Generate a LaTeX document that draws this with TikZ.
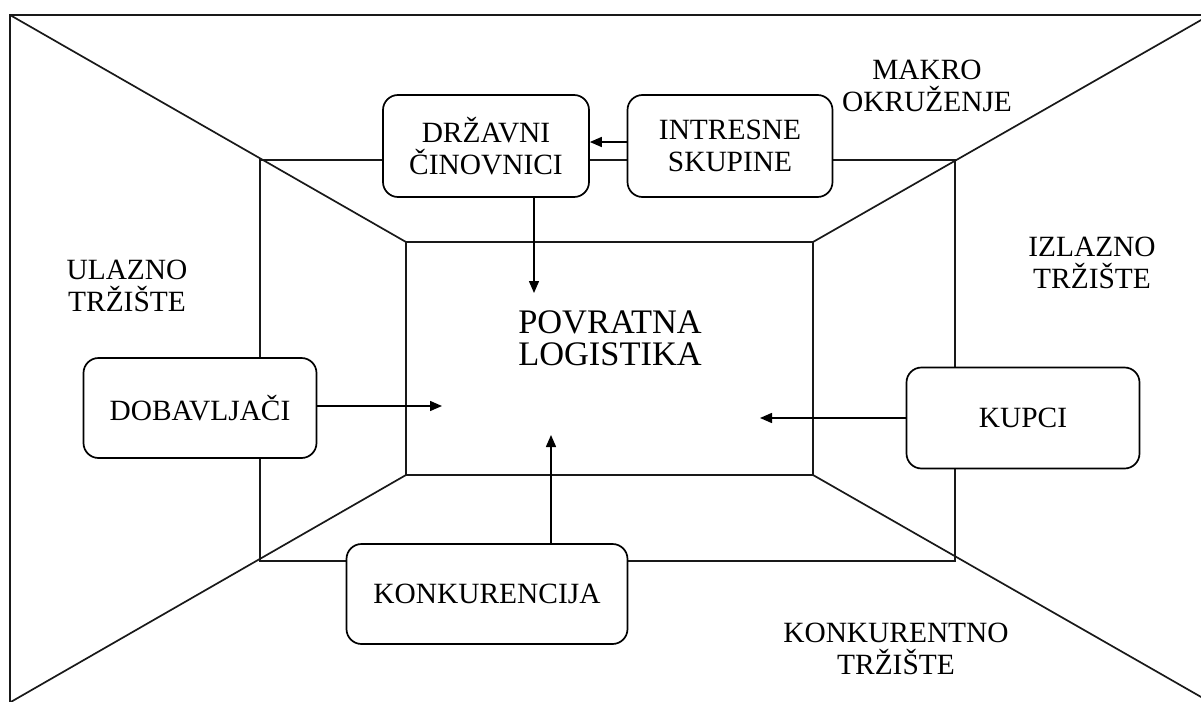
\documentclass[tikz,border=0pt]{standalone}
\usepackage{fontspec}
\setmainfont{Liberation Serif}
\usetikzlibrary{arrows.meta}

\tikzset{
  frame/.style={line width=0.85pt, black!90},
  box/.style={draw, line width=0.85pt, fill=white, rounded corners=7.5pt,
              align=center, inner sep=0pt, font=\fontsize{14.7pt}{15.6pt}\selectfont},
  lbl/.style={align=center, inner sep=0pt, font=\fontsize{14.7pt}{16pt}\selectfont},
  arr/.style={line width=0.75pt, -{Triangle[length=6pt,width=5pt]}}
}

\begin{document}
\begin{tikzpicture}[x=0.5pt,y=-0.5pt]
  \useasboundingbox (0,0) rectangle (1201,702);
  \clip (0,0) rectangle (1201,702);

  % corner points of the three nested frames (outer one runs past the page)
  \coordinate (oTL) at (10,15);
  \coordinate (oTR) at (1220,15);
  \coordinate (oBR) at (1220,720);
  \coordinate (oBL) at (10,720);
  \coordinate (iTL) at (406,242);
  \coordinate (iTR) at (813,242);
  \coordinate (iBR) at (813,475);
  \coordinate (iBL) at (406,475);

  % outer frame
  \draw[frame] (oTL) -- (oTR) -- (oBR) -- (oBL) -- cycle;
  % middle frame
  \draw[frame] (260,160) rectangle (955,561);
  % inner frame
  \draw[frame] (iTL) rectangle (iBR);
  % diagonals joining the frames
  \draw[frame] (oTL) -- (iTL);
  \draw[frame] (1209,15.5) -- (iTR);
  \draw[frame] (1209,701.5) -- (iBR);
  \draw[frame] (9,703) -- (iBL);

  % centre label
  \node[lbl, font=\fontsize{17.2pt}{16pt}\selectfont] (core) at (610,338) {POVRATNA\\LOGISTIKA};

  % actors
  \node[box, minimum width=103pt, minimum height=51pt] (drz) at (486,146) {DRŽAVNI\\ČINOVNICI};
  \node[box, minimum width=102.5pt, minimum height=51pt] (int) at (730,146) {INTRESNE\\SKUPINE};
  \node[box, minimum width=116.5pt, minimum height=50pt] (dob) at (200,408) {DOBAVLJAČI};
  \node[box, minimum width=116.5pt, minimum height=50.5pt] (kup) at (1023,418) {KUPCI};
  \node[box, minimum width=140.5pt, minimum height=50pt] (kon) at (487,594) {KONKURENCIJA};

  % environment labels
  \node[lbl] (makro) at (927,86) {MAKRO\\OKRUŽENJE};
  \node[lbl] (ulaz) at (127,286) {ULAZNO\\TRŽIŠTE};
  \node[lbl] (izlaz) at (1092,263) {IZLAZNO\\TRŽIŠTE};
  \node[lbl] (konk) at (896,649) {KONKURENTNO\\TRŽIŠTE};

  % arrow end points inside the inner frame
  \coordinate (eDrz) at (534,293);
  \coordinate (eDob) at (442,406);
  \coordinate (eKup) at (760,418);
  \coordinate (eKon) at (551,435);

  % influences
  \draw[arr] (int.west |- 0,142) -- (drz.east |- 0,142);
  \draw[arr] (drz.south -| eDrz) -- (eDrz);
  \draw[arr] (dob.east |- eDob) -- (eDob);
  \draw[arr] (kup.west) -- (eKup);
  \draw[arr] (kon.north -| eKon) -- (eKon);
\end{tikzpicture}
\end{document}
